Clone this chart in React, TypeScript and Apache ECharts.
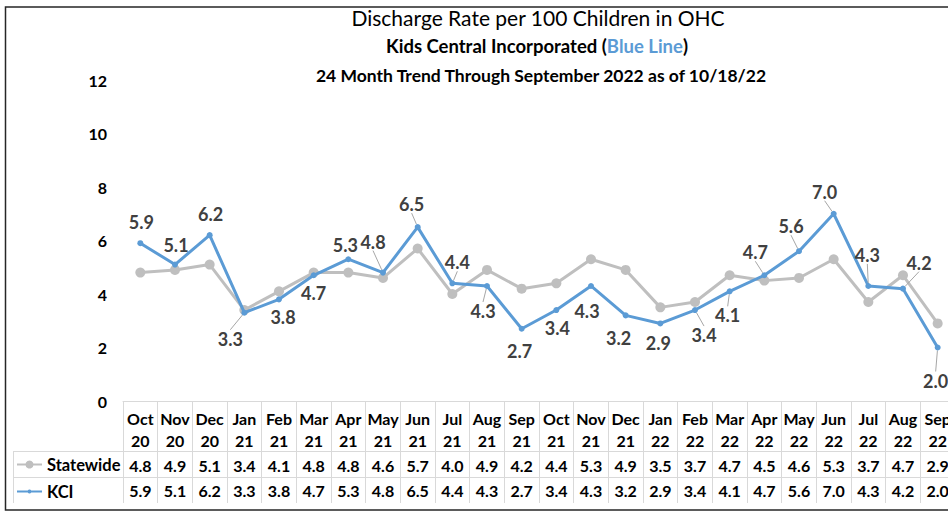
import React, { useEffect, useRef } from "react";
import * as echarts from "echarts";

const categories = [
  "Oct 20", "Nov 20", "Dec 20", "Jan 21", "Feb 21", "Mar 21", "Apr 21", "May 21",
  "Jun 21", "Jul 21", "Aug 21", "Sep 21", "Oct 21", "Nov 21", "Dec 21", "Jan 22",
  "Feb 22", "Mar 22", "Apr 22", "May 22", "Jun 22", "Jul 22", "Aug 22", "Sep 22",
];
const statewide = [4.8, 4.9, 5.1, 3.4, 4.1, 4.8, 4.8, 4.6, 5.7, 4.0, 4.9, 4.2, 4.4, 5.3, 4.9, 3.5, 3.7, 4.7, 4.5, 4.6, 5.3, 3.7, 4.7, 2.9];
const kci = [5.9, 5.1, 6.2, 3.3, 3.8, 4.7, 5.3, 4.8, 6.5, 4.4, 4.3, 2.7, 3.4, 4.3, 3.2, 2.9, 3.4, 4.1, 4.7, 5.6, 7.0, 4.3, 4.2, 2.0];
const yMin = 0;
const yMax = 12;
const yInterval = 2;

// label placement (style): offset of each KCI label centre from its point
const labelOffsets: [number, number][] = [
  [1, -21], [1, -20], [1, -21], [-14, 26], [4, 18], [0, 18], [-3, -14], [-10, -31],
  [-6, -23], [5, -21], [-4, 25], [-2, 22], [1, 18], [-4, 25], [-7, 23], [-2, 20],
  [9, 25], [-2, 24], [-9, -23], [-8, -25], [-9, -22], [-1, -31], [16, -26], [-2, 33],
];
const leaderIdx = [3, 7, 8, 9, 10, 16, 17, 18, 19, 20, 21, 22, 23];

const FONT = "Lato, 'Open Sans', sans-serif";
const GRID_LINE = "#d9d9d9";
// legend icon for KCI: thin line with a small dot (corner specks keep the 25x10 box)
const KCI_ICON =
  "path://M0,0h0.01v0.01h-0.01z M25,10h-0.01v-0.01h0.01z M0,4h25v2h-25z M12.5,3a2,2 0 1,1 -0.01,0z";

export default function App() {
  const ref = useRef<HTMLDivElement>(null);
  useEffect(() => {
    document.body.style.margin = "0";
    document.body.style.overflow = "hidden";
    if (!ref.current) return;
    const chart = echarts.init(ref.current, undefined, { renderer: "svg" });
    const option: any = {
      animation: false,
      backgroundColor: "#ffffff",
      textStyle: { fontFamily: FONT },
      title: [
        {
          text: "Discharge Rate per 100 Children in OHC",
          left: 538, top: 7, padding: 0, textAlign: "center",
          textStyle: { fontFamily: FONT, fontSize: 21, fontWeight: "normal", color: "#000" },
        },
        {
          text: "{a|Kids Central Incorporated (}{b|Blue Line}{a|)}",
          left: 537, top: 36, padding: 0, textAlign: "center",
          textStyle: {
            rich: {
              a: { fontFamily: FONT, fontSize: 18.5, fontWeight: "bold", color: "#000" },
              b: { fontFamily: FONT, fontSize: 18.5, fontWeight: "bold", color: "#5b9bd5" },
            },
          },
        },
        {
          text: "24 Month Trend Through September 2022 as of 10/18/22",
          left: 541, top: 66, padding: 0, textAlign: "center",
          textStyle: { fontFamily: FONT, fontSize: 17.5, fontWeight: "bold", color: "#000" },
        },
      ],
      legend: {
        data: [{ name: "Statewide" }, { name: "KCI", icon: KCI_ICON }],
        orient: "vertical",
        left: 16,
        top: 456,
        padding: 0,
        itemWidth: 25,
        itemHeight: 10,
        itemGap: 10,
        selectedMode: false,
        textStyle: { fontFamily: FONT, fontSize: 16.5, fontWeight: "bold", color: "#000" },
      },
      grid: { left: 123, top: 80, width: 832, height: 321 },
      xAxis: [
        {
          type: "category",
          data: categories,
          boundaryGap: true,
          axisLine: { show: true, lineStyle: { color: GRID_LINE, width: 1 } },
          axisTick: { show: true, interval: 0, length: 102, lineStyle: { color: GRID_LINE, width: 1 } },
          axisLabel: {
            interval: 0,
            margin: 6,
            formatter: (v: string) => v.replace(" ", "\n"),
            fontFamily: FONT, fontSize: 16, fontWeight: "bold", color: "#000", lineHeight: 22,
          },
        },
        {
          type: "category",
          data: statewide.map((v) => v.toFixed(1)),
          position: "bottom",
          offset: 51,
          axisLine: { show: false },
          axisTick: { show: false },
          axisLabel: { interval: 0, margin: 5, fontFamily: FONT, fontSize: 16, fontWeight: "bold", color: "#000" },
        },
        {
          type: "category",
          data: kci.map((v) => v.toFixed(1)),
          position: "bottom",
          offset: 76,
          axisLine: { show: false },
          axisTick: { show: false },
          axisLabel: { interval: 0, margin: 5, fontFamily: FONT, fontSize: 16, fontWeight: "bold", color: "#000" },
        },
      ],
      yAxis: {
        type: "value",
        min: yMin,
        max: yMax,
        interval: yInterval,
        axisLine: { show: false },
        axisTick: { show: false },
        splitLine: { show: false },
        axisLabel: { margin: 16, fontFamily: FONT, fontSize: 16, fontWeight: "bold", color: "#000" },
      },
      series: [
        {
          name: "Statewide",
          type: "line",
          data: statewide,
          symbol: "circle",
          symbolSize: 10,
          z: 2,
          lineStyle: { color: "#bfbfbf", width: 3 },
          itemStyle: { color: "#bfbfbf" },
        },
        {
          name: "KCI",
          type: "line",
          z: 3,
          data: kci.map((v, i) => ({
            value: v,
            labelLine: { show: leaderIdx.includes(i) },
          })),
          symbol: "circle",
          symbolSize: 6,
          lineStyle: { color: "#5b9bd5", width: 3 },
          itemStyle: { color: "#5b9bd5" },
          label: {
            show: true,
            position: "inside",
            formatter: (p: any) => Number(p.value).toFixed(1),
            fontFamily: FONT, fontSize: 18, fontWeight: "bold", color: "#404040",
          },
          labelLine: { show: false, lineStyle: { color: "#a6a6a6", width: 1 } },
          labelLayout: (p: any) => ({ dx: labelOffsets[p.dataIndex][0], dy: labelOffsets[p.dataIndex][1] }),
        },
      ],
      graphic: [
        { type: "rect", shape: { x: 5.5, y: 7, width: 1000, height: 503 }, style: { fill: "none", stroke: "#262626", lineWidth: 1.5 }, silent: true },
        { type: "line", shape: { x1: 13, y1: 451.5, x2: 990, y2: 451.5 }, style: { stroke: GRID_LINE, lineWidth: 1 }, silent: true },
        { type: "line", shape: { x1: 13, y1: 477.5, x2: 990, y2: 477.5 }, style: { stroke: GRID_LINE, lineWidth: 1 }, silent: true },
        { type: "line", shape: { x1: 13.5, y1: 451.5, x2: 13.5, y2: 503 }, style: { stroke: GRID_LINE, lineWidth: 1 }, silent: true },
      ],
    };
    chart.setOption(option);
    return () => chart.dispose();
  }, []);
  return <div ref={ref} style={{ width: 990, height: 513 }} />;
}
